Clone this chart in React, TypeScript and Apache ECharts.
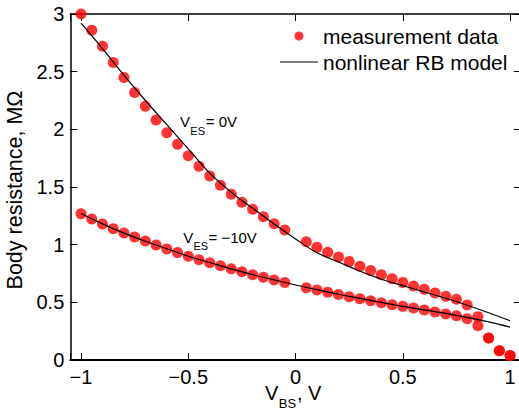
import React, { useEffect, useRef } from 'react';
import * as echarts from 'echarts';

// V_BS values of the measured points (there is no measured point at 0 V)
const vbsMeasured = [
  -1, -0.95, -0.9, -0.85, -0.8, -0.75, -0.7, -0.65, -0.6, -0.55,
  -0.5, -0.45, -0.4, -0.35, -0.3, -0.25, -0.2, -0.15, -0.1, -0.05,
  0.05, 0.1, 0.15, 0.2, 0.25, 0.3, 0.35, 0.4, 0.45, 0.5,
  0.55, 0.6, 0.65, 0.7, 0.75, 0.8, 0.85, 0.9, 0.95, 1,
];
// measured body resistance (MOhm), V_ES = 0 V
const rbMeasuredVes0 = [
  3.0, 2.86, 2.72, 2.58, 2.45, 2.32, 2.2, 2.08, 1.97, 1.87,
  1.77, 1.68, 1.595, 1.515, 1.437, 1.367, 1.307, 1.243, 1.182, 1.127,
  1.026, 0.977, 0.934, 0.893, 0.853, 0.812, 0.775, 0.74, 0.705, 0.673,
  0.642, 0.613, 0.581, 0.552, 0.526, 0.477, 0.376, 0.191, 0.081, 0.038,
];
// measured body resistance (MOhm), V_ES = -10 V
const rbMeasuredVesM10 = [
  1.269, 1.223, 1.179, 1.139, 1.101, 1.067, 1.032, 0.997, 0.962, 0.931,
  0.899, 0.87, 0.844, 0.818, 0.792, 0.766, 0.74, 0.717, 0.694, 0.672,
  0.627, 0.607, 0.587, 0.567, 0.549, 0.532, 0.514, 0.497, 0.48, 0.465,
  0.451, 0.434, 0.416, 0.399, 0.384, 0.358, 0.298, 0.191, 0.081, 0.038,
];
// nonlinear RB model curves
const vbsModel = [-1, -0.9, -0.8, -0.7, -0.6, -0.5, -0.4, -0.3, -0.2, -0.1, 0, 0.1, 0.2, 0.3, 0.4, 0.5, 0.6, 0.7, 0.8, 0.9, 1];
const rbModelVes0 = [2.92, 2.7, 2.47, 2.25, 2.04, 1.83, 1.62, 1.455, 1.315, 1.18, 1.05, 0.93, 0.85, 0.77, 0.7, 0.645, 0.59, 0.535, 0.475, 0.41, 0.34];
const rbModelVesM10 = [1.27, 1.18, 1.1, 1.03, 0.965, 0.9, 0.845, 0.79, 0.74, 0.695, 0.65, 0.61, 0.57, 0.535, 0.5, 0.465, 0.435, 0.405, 0.37, 0.33, 0.285];

const MEAS_NAME = 'measurement data';
const MODEL_NAME = 'nonlinear RB model';
const FONT = '"Liberation Sans", Arial, Helvetica, sans-serif';

const pairs = (xs: number[], ys: number[]) => xs.map((x, i) => [x, ys[i]]);

const fmtX = (v: number) => {
  if (Math.abs(v * 2 - Math.round(v * 2)) > 1e-6) return '';
  return String(v).replace('-', '\u2212');
};

export default function App() {
  const ref = useRef<HTMLDivElement>(null);
  useEffect(() => {
    if (!ref.current) return;
    const chart = echarts.init(ref.current, null, { renderer: 'svg' });
    const axisLine = { show: true, onZero: false, lineStyle: { color: '#000', width: 1.5 } };
    const tick = { show: true, inside: true, length: 7, lineStyle: { color: '#000', width: 1 } };
    const labelStyle = { color: '#000', fontFamily: FONT, fontSize: 20, lineHeight: 20 };
    const txt = (text: string, x: number, y: number, size: number) => ({
      type: 'text',
      x,
      y,
      style: { text, fontFamily: FONT, fontSize: size, fill: '#000', verticalAlign: 'middle', align: 'left' },
      z: 100,
    });
    chart.setOption({
      animation: false,
      backgroundColor: '#fff',
      grid: { left: 70.3, top: 14, width: 450.5, height: 346, containLabel: false, outerBoundsMode: 'none' },
      legend: {
        orient: 'vertical',
        left: 280,
        top: 25.5,
        itemWidth: 38,
        itemHeight: 9,
        itemGap: 5,
        padding: 0,
        textStyle: { color: '#000', fontFamily: FONT, fontSize: 21, lineHeight: 21 },
        data: [
          { name: MEAS_NAME, icon: 'circle', itemStyle: { color: '#ff0000' } },
          { name: MODEL_NAME, icon: 'path://M0,0L38,0L38,1.2L0,1.2Z', itemStyle: { color: '#000' } },
        ],
      },
      xAxis: [
        {
          type: 'value',
          min: -1.05,
          max: 1.05,
          splitNumber: 5,
          position: 'bottom',
          axisLine: { show: true, onZero: false, lineStyle: { color: '#000', width: 2 } },
          axisTick: tick,
          splitLine: { show: false },
          axisLabel: { ...labelStyle, margin: 7, formatter: fmtX },
        },
        {
          type: 'value',
          min: -1.05,
          max: 1.05,
          splitNumber: 5,
          position: 'top',
          axisLine,
          axisTick: tick,
          splitLine: { show: false },
          axisLabel: { show: false },
        },
      ],
      yAxis: [
        {
          type: 'value',
          min: 0,
          max: 3,
          interval: 0.5,
          position: 'left',
          axisLine,
          axisTick: tick,
          splitLine: { show: false },
          axisLabel: { ...labelStyle, margin: 6 },
          name: 'Body resistance, M\u03A9',
          nameLocation: 'middle',
          nameGap: 43,
          nameTextStyle: { color: '#000', fontFamily: FONT, fontSize: 21.5, lineHeight: 21.5, padding: [0, 6, 0, 0] },
        },
        {
          type: 'value',
          min: 0,
          max: 3,
          interval: 0.5,
          position: 'right',
          axisLine,
          axisTick: tick,
          splitLine: { show: false },
          axisLabel: { show: false },
        },
      ],
      series: [
        {
          name: MEAS_NAME,
          type: 'scatter',
          data: pairs(vbsMeasured, rbMeasuredVes0),
          symbol: 'circle',
          symbolSize: 11,
          itemStyle: { color: '#ff0000' },
          z: 2,
        },
        {
          name: MEAS_NAME,
          type: 'scatter',
          data: pairs(vbsMeasured, rbMeasuredVesM10),
          symbol: 'circle',
          symbolSize: 11,
          itemStyle: { color: '#ff0000' },
          z: 2,
        },
        {
          name: MODEL_NAME,
          type: 'line',
          data: pairs(vbsModel, rbModelVes0),
          symbol: 'none',
          smooth: 0.4,
          lineStyle: { color: '#000', width: 1.2 },
          itemStyle: { color: '#000' },
          z: 3,
        },
        {
          name: MODEL_NAME,
          type: 'line',
          data: pairs(vbsModel, rbModelVesM10),
          symbol: 'none',
          smooth: 0.4,
          lineStyle: { color: '#000', width: 1.2 },
          itemStyle: { color: '#000' },
          z: 3,
        },
      ],
      graphic: [
        // curve annotations
        txt('V', 180, 121.8, 15),
        txt('ES', 190.3, 131.2, 11),
        txt('= 0V', 205.8, 121.8, 15),
        txt('V', 183.3, 237.3, 15),
        txt('ES', 193.5, 246.2, 11),
        txt('= \u221210V', 208.5, 237.3, 15),
        // x-axis title: V_BS, V
        txt('V', 265, 393.1, 20),
        txt('BS', 278.8, 403.5, 13),
        txt(', V', 297, 393.1, 20),
      ],
    });
    return () => chart.dispose();
  }, []);
  return <div ref={ref} style={{ position: 'fixed', left: 0, top: 0, width: 519, height: 412 }} />;
}
